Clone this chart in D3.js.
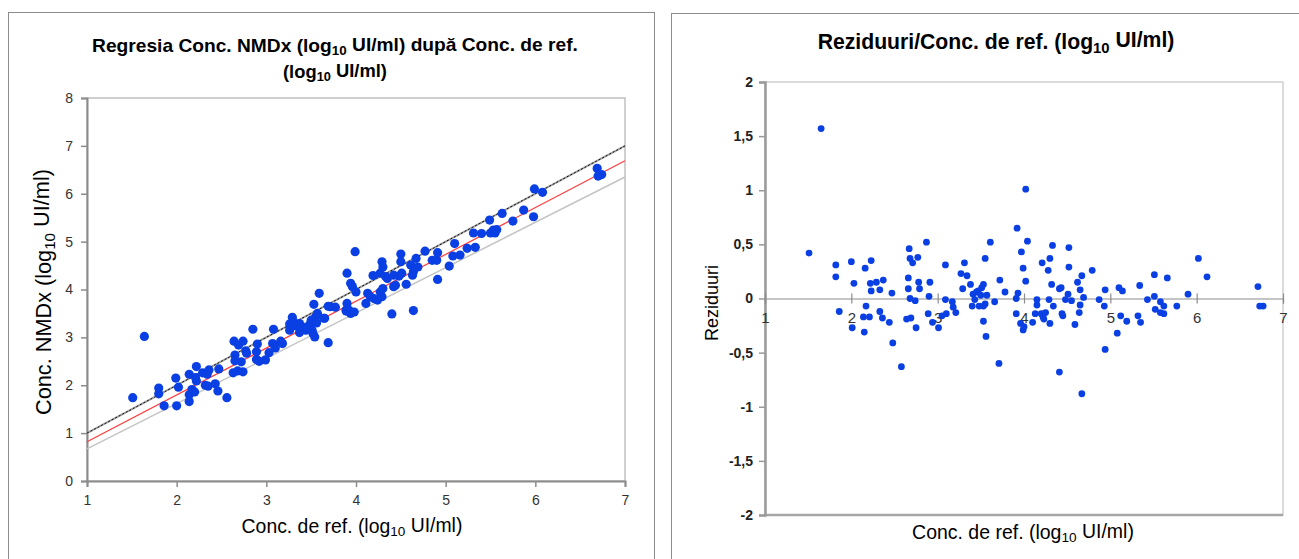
<!DOCTYPE html>
<html>
<head>
<meta charset="utf-8">
<script src="https://cdn.jsdelivr.net/npm/d3@7"></script>
<style>
  body { margin: 0; background: #fff; }
  text { font-family: "Liberation Sans", Arial, sans-serif; }
</style>
</head>
<body>
<svg id="chart" width="1299" height="559"></svg>
<script>
// regression plot: reference conc. vs NMDx conc. (log10 UI/ml)
var refX = [1.51, 1.64, 1.80, 1.80, 1.86, 1.99, 2.00, 2.02, 2.14, 2.14, 2.14, 2.17, 2.20, 2.22, 2.21, 2.22,
  2.29, 2.32, 2.34, 2.35, 2.36, 2.43, 2.46, 2.47, 2.56, 2.63, 2.64, 2.65, 2.65, 2.68, 2.69, 2.72, 2.74, 2.74,
  2.77, 2.78, 2.85, 2.89, 2.89, 2.90, 2.92, 2.99, 3.03, 3.07, 3.08, 3.10, 3.16, 3.18, 3.26, 3.26, 3.29, 3.37,
  3.37, 3.40, 3.44, 3.48, 3.50, 3.51, 3.52, 3.53, 3.54, 3.55, 3.57, 3.59, 3.65, 3.69, 3.69, 3.71, 3.77, 3.89,
  3.90, 3.90, 3.92, 3.94, 3.94, 3.96, 3.98, 3.99, 4.00, 4.11, 4.13, 4.16, 4.19, 4.20, 4.24, 4.27, 4.27, 4.29,
  4.29, 4.30, 4.30, 4.33, 4.35, 4.40, 4.42, 4.42, 4.44, 4.48, 4.50, 4.50, 4.51, 4.56, 4.61, 4.63, 4.64, 4.64,
  4.67, 4.69, 4.77, 4.85, 4.90, 4.91, 4.91, 5.04, 5.08, 5.10, 5.16, 5.24, 5.31, 5.33, 5.40, 5.49, 5.50, 5.53,
  5.55, 5.57, 5.63, 5.75, 5.87, 5.98, 5.99, 6.08, 6.69, 6.70, 6.74, 3.30, 3.34, 3.46, 3.56, 3.64, 3.89]
var nmdxY = [1.74, 3.02, 1.94, 1.82, 1.57, 2.15, 1.57, 1.96, 2.23, 1.80, 1.66, 1.91, 1.86, 2.39, 2.16, 2.09,
  2.26, 2.00, 2.23, 1.98, 2.32, 2.03, 1.88, 2.34, 1.74, 2.26, 2.92, 2.63, 2.51, 2.30, 2.84, 2.49, 2.92, 2.28,
  2.72, 2.67, 3.17, 2.54, 2.70, 2.86, 2.50, 2.53, 2.68, 2.87, 3.17, 2.78, 2.92, 2.87, 3.28, 3.15, 3.42, 3.10,
  3.29, 3.22, 3.15, 3.26, 3.36, 3.15, 3.08, 3.69, 3.01, 3.43, 3.50, 3.92, 3.40, 2.89, 3.65, 3.64, 3.63, 3.57,
  4.34, 3.71, 3.57, 3.50, 4.13, 4.06, 3.53, 4.79, 3.95, 3.71, 3.92, 3.85, 4.29, 3.81, 3.78, 3.95, 4.34, 4.58,
  3.85, 4.47, 4.02, 4.27, 4.23, 3.49, 4.30, 4.06, 4.09, 4.28, 4.74, 4.58, 4.34, 4.11, 4.51, 4.30, 3.56, 4.37,
  4.65, 4.47, 4.80, 4.61, 4.61, 4.77, 4.21, 4.49, 4.70, 4.96, 4.72, 4.86, 5.18, 4.88, 5.17, 5.45, 5.18, 5.24,
  5.18, 5.25, 5.59, 5.43, 5.66, 5.52, 6.10, 6.03, 6.53, 6.37, 6.40, 3.33, 3.24, 3.20, 3.30, 3.40, 3.55]

// reference lines, read as end points at x = 1 and x = 7
var identityLine = [[1, 1], [7, 7]]
var regressionLine = [[1, 0.82], [7, 6.69]]
var lowerLine = [[1, 0.67], [7, 6.35]]

// residual plot
var resX = [1.51, 1.65, 1.82, 1.82, 1.86, 2.00, 2.01, 2.03, 2.14, 2.15, 2.16, 2.17, 2.21, 2.22, 2.23, 2.23,
  2.29, 2.33, 2.33, 2.36, 2.37, 2.44, 2.47, 2.48, 2.58, 2.64, 2.66, 2.66, 2.67, 2.68, 2.68, 2.69, 2.71, 2.74,
  2.75, 2.77, 2.78, 2.79, 2.87, 2.89, 2.90, 2.91, 2.94, 3.01, 3.05, 3.09, 3.09, 3.10, 3.17, 3.18, 3.21, 3.27,
  3.29, 3.31, 3.34, 3.38, 3.40, 3.41, 3.43, 3.45, 3.47, 3.48, 3.50, 3.51, 3.53, 3.53, 3.53, 3.55, 3.55, 3.56,
  3.57, 3.61, 3.66, 3.71, 3.72, 3.78, 3.91, 3.91, 3.92, 3.93, 3.96, 3.97, 3.99, 3.99, 4.00, 4.02, 4.02, 4.04,
  4.10, 4.13, 4.15, 4.15, 4.20, 4.21, 4.22, 4.23, 4.25, 4.28, 4.29, 4.30, 4.30, 4.32, 4.33, 4.34, 4.41, 4.41,
  4.43, 4.44, 4.45, 4.48, 4.51, 4.52, 4.52, 4.55, 4.59, 4.62, 4.64, 4.65, 4.65, 4.67, 4.67, 4.69, 4.79, 4.87,
  4.93, 4.94, 4.94, 5.08, 5.10, 5.12, 5.14, 5.19, 5.32, 5.34, 5.35, 5.43, 5.51, 5.51, 5.52, 5.58, 5.58, 5.62,
  5.62, 5.66, 5.77, 5.90, 6.02, 6.12, 6.71, 6.73, 6.77]
var residual = [0.42, 1.57, 0.31, 0.20, -0.12, 0.34, -0.27, 0.14, -0.17, -0.31, 0.28, -0.07, -0.17, 0.14, 0.35, 0.07,
  0.15, 0.08, -0.12, -0.18, 0.17, -0.22, 0.05, -0.41, -0.63, -0.19, 0.19, 0.09, 0.46, 0.37, 0.00, -0.18, 0.33, -0.02,
  -0.27, 0.38, 0.15, 0.09, 0.52, -0.14, 0.02, 0.15, -0.22, -0.27, -0.16, 0.31, -0.01, -0.14, -0.03, -0.08, -0.13, 0.23,
  0.09, 0.33, 0.21, 0.13, -0.07, 0.04, -0.01, 0.06, 0.07, -0.07, 0.03, 0.10, 0.13, -0.07, -0.21, 0.37, -0.05, -0.35,
  0.03, 0.52, -0.03, -0.60, 0.17, 0.06, 0.00, -0.14, 0.65, 0.05, -0.23, 0.43, 0.28, -0.29, -0.26, 1.01, 0.16, 0.53,
  -0.22, -0.14, -0.01, -0.06, -0.14, 0.33, -0.17, -0.19, -0.13, 0.26, -0.01, 0.37, -0.23, 0.13, 0.49, -0.07, -0.68, 0.09,
  0.10, -0.14, -0.16, -0.01, 0.04, 0.47, 0.29, -0.02, -0.24, 0.15, -0.13, 0.08, -0.06, 0.21, -0.88, 0.01, 0.26, -0.01,
  -0.07, 0.08, -0.47, -0.32, 0.10, -0.16, 0.07, -0.21, -0.16, 0.12, -0.22, -0.01, 0.22, 0.02, -0.10, -0.03, -0.13, -0.07,
  -0.14, 0.19, -0.07, 0.04, 0.37, 0.20, 0.11, -0.07, -0.07]

var leftTicksX = [1, 2, 3, 4, 5, 6, 7]
var leftTicksY = [0, 1, 2, 3, 4, 5, 6, 7, 8]
var rightTicksX = [1, 2, 3, 4, 5, 6, 7]
var rightTicksY = [-2, -1.5, -1, -0.5, 0, 0.5, 1, 1.5, 2]

var dotColor = '#0a3fe3'
var svg = d3.select('#chart')

// text with a "10" subscript after "log"
function richText (g, str, x, y, size, weight) {
  var t = g.append('text')
    .attr('x', x).attr('y', y)
    .attr('text-anchor', 'middle')
    .attr('font-size', size)
    .attr('font-weight', weight || 'normal')
    .attr('fill', '#000')
  var parts = str.split('_10')
  parts.forEach(function (p, i) {
    if (i > 0) {
      t.append('tspan').text('10').attr('font-size', '0.7em').attr('dy', '0.25em')
      t.append('tspan').text(p).attr('dy', '-0.25em')
    } else {
      t.append('tspan').text(p)
    }
  })
  return t
}

// scale font so the text spans the given width
function fitWidth (t, w) {
  var len = t.node().getComputedTextLength()
  var fs = parseFloat(t.attr('font-size'))
  t.attr('font-size', fs * w / len)
}

// ---------- left chart ----------
svg.append('rect')
  .attr('x', 8.5).attr('y', 12.5).attr('width', 646).attr('height', 570)
  .attr('fill', 'none').attr('stroke', '#8c8c8c')

var x1 = d3.scaleLinear().domain([1, 7]).range([87, 625])
var y1 = d3.scaleLinear().domain([0, 8]).range([481, 98])

svg.append('rect')
  .attr('x', x1(1)).attr('y', y1(8)).attr('width', x1(7) - x1(1)).attr('height', y1(0) - y1(8))
  .attr('fill', 'none').attr('stroke', '#c0c0c0').attr('stroke-width', 1.5)

var leftYAxis = svg.append('g')
  .attr('transform', 'translate(' + x1(1) + ',0)')
  .call(d3.axisLeft(y1).tickValues(leftTicksY).tickSize(6).tickPadding(8).tickFormat(d3.format('d')))
var leftXAxis = svg.append('g')
  .attr('transform', 'translate(0,' + y1(0) + ')')
  .call(d3.axisBottom(x1).tickValues(leftTicksX).tickSize(6).tickPadding(8).tickFormat(d3.format('d')))

;[leftYAxis, leftXAxis].forEach(function (a) {
  a.select('.domain').attr('stroke', '#8c8c8c').attr('stroke-width', 2)
  a.selectAll('.tick line').attr('stroke', '#8c8c8c').attr('stroke-width', 1.5)
  a.selectAll('.tick text').attr('font-size', 14).attr('fill', '#333')
})

var line1 = d3.line().x(function (d) { return x1(d[0]) }).y(function (d) { return y1(d[1]) })

svg.append('path').datum(lowerLine).attr('d', line1)
  .attr('fill', 'none').attr('stroke', '#c4c4c4').attr('stroke-width', 1.5)
svg.append('path').datum(identityLine).attr('d', line1)
  .attr('fill', 'none').attr('stroke', '#a0a0a0').attr('stroke-width', 2)
svg.append('path').datum(identityLine).attr('d', line1)
  .attr('fill', 'none').attr('stroke', '#111').attr('stroke-width', 1).attr('stroke-dasharray', '2,2')
svg.append('path').datum(regressionLine).attr('d', line1)
  .attr('fill', 'none').attr('stroke', '#ff3b3b').attr('stroke-width', 1.2)

svg.append('g').selectAll('circle')
  .data(refX.map(function (x, i) { return [x, nmdxY[i]] }))
  .enter()
  .append('circle')
  .attr('cx', function (d) { return x1(d[0]) })
  .attr('cy', function (d) { return y1(d[1]) })
  .attr('r', 4.6)
  .attr('fill', dotColor)

fitWidth(richText(svg, 'Regresia Conc. NMDx (log_10 UI/ml) după Conc. de ref.', 335, 52, 16, 'bold'), 486)
fitWidth(richText(svg, '(log_10 UI/ml)', 335, 78, 16, 'bold'), 104)
fitWidth(richText(svg, 'Conc. de ref. (log_10 UI/ml)', 352, 533, 17), 221)
var yt = richText(svg, 'Conc. NMDx (log_10 UI/ml)', 0, 0, 17)
  .attr('transform', 'translate(51,292) rotate(-90)')
fitWidth(yt, 246)

// ---------- right chart ----------
svg.append('rect')
  .attr('x', 671.5).attr('y', 13.5).attr('width', 660).attr('height', 570)
  .attr('fill', 'none').attr('stroke', '#8c8c8c')

var x2 = d3.scaleLinear().domain([1, 7]).range([765, 1283])
var y2 = d3.scaleLinear().domain([-2, 2]).range([515, 82])

svg.append('rect')
  .attr('x', x2(1)).attr('y', y2(2)).attr('width', x2(7) - x2(1)).attr('height', y2(-2) - y2(2))
  .attr('fill', 'none').attr('stroke', '#d0d0d0').attr('stroke-width', 1.5)
svg.append('line')
  .attr('x1', x2(1)).attr('x2', x2(7)).attr('y1', y2(-2)).attr('y2', y2(-2))
  .attr('stroke', '#a6a6a6').attr('stroke-width', 2.5)

var rightYAxis = svg.append('g')
  .attr('transform', 'translate(' + x2(1) + ',0)')
  .call(d3.axisLeft(y2).tickValues(rightTicksY).tickSize(6).tickPadding(6)
    .tickFormat(function (d) { return String(d).replace('.', ',') }))
rightYAxis.select('.domain').attr('stroke', '#9a9a9a').attr('stroke-width', 2.5)
rightYAxis.selectAll('.tick line').attr('stroke', '#9a9a9a').attr('stroke-width', 1.5)
rightYAxis.selectAll('.tick text').attr('font-size', 14).attr('font-weight', 'bold').attr('fill', '#222')

var rightXAxis = svg.append('g')
  .attr('transform', 'translate(0,' + y2(0) + ')')
  .call(d3.axisBottom(x2).tickValues(rightTicksX).tickSize(5).tickFormat(d3.format('d')))
rightXAxis.select('.domain').attr('stroke', '#8c8c8c').attr('stroke-width', 1.2)
rightXAxis.selectAll('.tick line').attr('y1', -5).attr('stroke', '#8c8c8c').attr('stroke-width', 1.2)
rightXAxis.selectAll('.tick text').attr('y', 14).attr('font-size', 15).attr('fill', '#333')

svg.append('g').selectAll('circle')
  .data(resX.map(function (x, i) { return [x, residual[i]] }))
  .enter()
  .append('circle')
  .attr('cx', function (d) { return x2(d[0]) })
  .attr('cy', function (d) { return y2(d[1]) })
  .attr('r', 3.4)
  .attr('fill', dotColor)

fitWidth(richText(svg, 'Reziduuri/Conc. de ref. (log_10 UI/ml)', 996, 49, 16, 'bold'), 357)
fitWidth(richText(svg, 'Conc. de ref. (log_10 UI/ml)', 1023, 539, 17), 222)
var ryt = richText(svg, 'Reziduuri', 0, 0, 17)
  .attr('transform', 'translate(718,303) rotate(-90)')
fitWidth(ryt, 76)
</script>
</body>
</html>
